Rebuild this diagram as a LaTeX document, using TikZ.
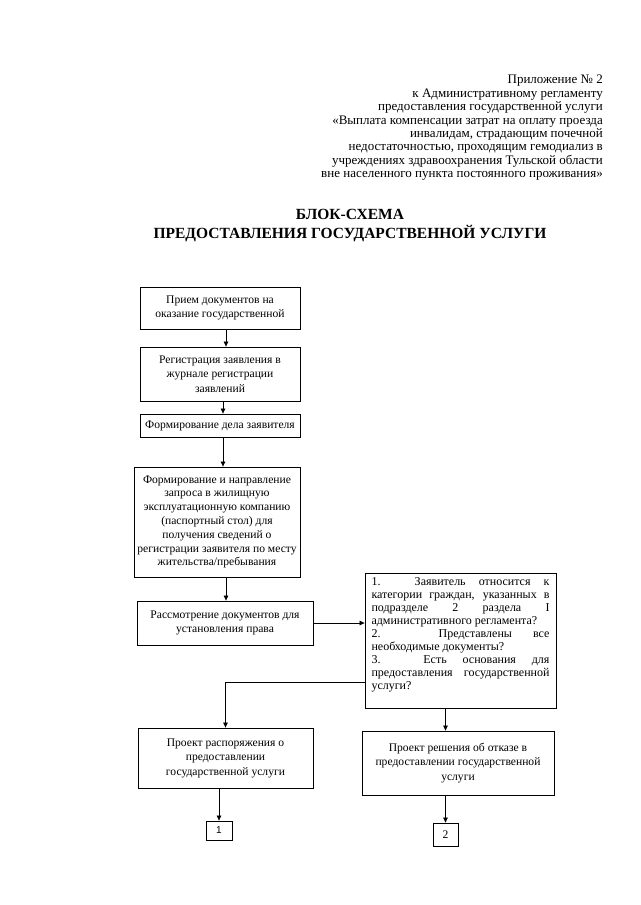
\documentclass[tikz,border=0pt]{standalone}
\usepackage{fontspec}
\setmainfont{Liberation Serif}
\newfontfamily\numfont{Liberation Sans}
\usetikzlibrary{arrows.meta,calc}
\begin{document}
\begin{tikzpicture}[x=1pt,y=-1pt,
  box/.style={draw, line width=0.8pt, inner sep=0pt, align=center,
    font=\fontsize{11.6}{14.5}\selectfont},
  arr/.style={-{Triangle[length=5pt,width=4.5pt]}, line width=0.7pt}]
\useasboundingbox (0,0) rectangle (640,905);

\node[anchor=north east, align=right, inner sep=0pt,
  font=\fontsize{13}{13.4}\selectfont] (hdr) at (603,75)
  {Приложение № 2\\
   к Административному регламенту\\
   предоставления государственной услуги\\
   «Выплата компенсации затрат на оплату проезда\\
   инвалидам, страдающим почечной\\
   недостаточностью, проходящим гемодиализ в\\
   учреждениях здравоохранения Тульской области\\
   вне населенного пункта постоянного проживания»};

\node[align=center, inner sep=0pt, font=\fontsize{15.5}{19}\selectfont\bfseries]
  (title) at (350,225.5)
  {БЛОК-СХЕМА\\ПРЕДОСТАВЛЕНИЯ ГОСУДАРСТВЕННОЙ УСЛУГИ};

\node[box, minimum width=160pt, minimum height=42pt] (b1) at (220,308)
  {Прием документов на\\оказание государственной};
\node[box, minimum width=160pt, minimum height=54pt] (b2) at (220,374)
  {Регистрация заявления в\\журнале регистрации\\заявлений};
\node[box, minimum width=160pt, minimum height=23pt] (b3) at (220,425.5)
  {Формирование дела заявителя};
\node[box, minimum width=166pt, minimum height=110pt,
  font=\fontsize{11.6}{13.8}\selectfont] (b4) at (217,522)
  {Формирование и направление\\запроса в жилищную\\эксплуатационную компанию\\(паспортный стол) для\\получения сведений о\\регистрации заявителя по месту\\жительства/пребывания};
\node[box, minimum width=176pt, minimum height=44pt] (b5) at (225,623)
  {Рассмотрение документов для\\установления права};

\node[box, inner xsep=6.5pt, inner ysep=5pt, align=left,
  font=\fontsize{12}{13}\selectfont] (dec) at (460.5,640.5)
  {\parbox[t][125pt][t]{178pt}{%
   \makebox[178pt][s]{1. Заявитель относится к}\\
   \makebox[178pt][s]{категории граждан, указанных в}\\
   \makebox[178pt][s]{подразделе 2 раздела I}\\
   административного регламента?\\
   \makebox[178pt][s]{2. Представлены все}\\
   необходимые документы?\\
   \makebox[178pt][s]{3. Есть основания для}\\
   \makebox[178pt][s]{предоставления государственной}\\
   услуги?}};

\node[box, minimum width=175pt, minimum height=60pt] (r1) at (225.5,758)
  {Проект распоряжения о\\предоставлении\\государственной услуги};
\node[box, minimum width=192pt, minimum height=64pt] (r2) at (458,763)
  {Проект решения об отказе в\\предоставлении государственной\\услуги};

\node[box, minimum width=26pt, minimum height=19pt,
  font=\fontsize{10}{12}\numfont] (n1) at (219,830.5) {1};
\node[box, minimum width=25pt, minimum height=23pt] (n2) at (445.5,834.5) {2};

\draw[arr] ([xshift=6pt]b1.south) -- ([xshift=6pt]b1.south |- b2.north);
\draw[arr] ([xshift=3pt]b2.south) -- ([xshift=3pt]b2.south |- b3.north);
\draw[arr] ([xshift=3pt]b3.south) -- ([xshift=3pt]b3.south |- b4.north);
\draw[arr] ([xshift=9pt]b4.south) -- ([xshift=9pt]b4.south |- b5.north);
\draw[arr] (b5.east) -- (b5.east -| dec.west);
\draw[arr] ([yshift=-41.5pt]dec.west) -| (r1.north);
\draw[arr] (n2.north |- dec.south) -- (n2.north |- r2.north);
\draw[arr] (n1.north |- r1.south) -- (n1.north);
\draw[arr] (n2.north |- r2.south) -- (n2.north);
\end{tikzpicture}
\end{document}
